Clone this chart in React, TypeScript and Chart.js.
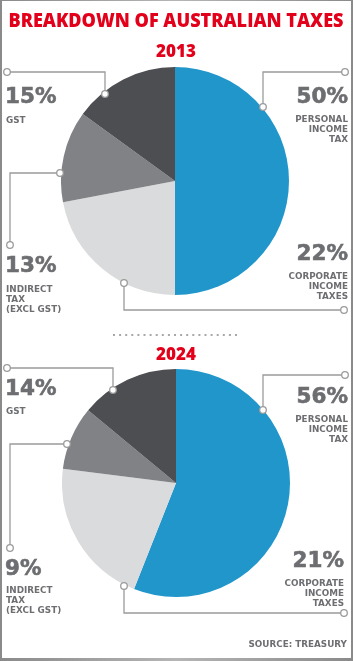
import React, { useEffect, useRef } from "react";
import { Chart, registerables } from "chart.js";

Chart.register(...registerables);

const categories = ["Personal income tax", "Corporate income taxes", "Indirect tax (excl GST)", "GST"];
const values2013 = [50, 22, 13, 15];
const values2024 = [56, 21, 9, 14];
const sliceColors = ["#2196CB", "#DADBDC", "#808285", "#4D4E51"];

const RED = "#E2001A";
const GREY = "#6D6E71";
const LINE = "#9B9B9B";
const FONT = "'Open Sans', 'DejaVu Sans', sans-serif";
const WIDE = "'DejaVu Sans', sans-serif";

function Pie({ values, left, top, size }: { values: number[]; left: number; top: number; size: number }) {
  const ref = useRef<HTMLCanvasElement | null>(null);
  useEffect(() => {
    if (!ref.current) return;
    const chart = new Chart(ref.current, {
      type: "pie",
      data: {
        labels: categories,
        datasets: [{ data: values, backgroundColor: sliceColors, borderWidth: 0 }],
      },
      options: {
        animation: false,
        responsive: false,
        maintainAspectRatio: false,
        layout: { padding: 0 },
        plugins: { legend: { display: false }, tooltip: { enabled: false } },
      },
    });
    return () => chart.destroy();
  }, [values]);
  return (
    <canvas
      ref={ref}
      width={size}
      height={size}
      style={{ position: "absolute", left, top, width: size, height: size }}
    />
  );
}

function Leader({ pts }: { pts: [number, number][] }) {
  const d = pts.map((p, i) => (i === 0 ? "M" : "L") + p[0] + " " + p[1]).join(" ");
  const a = pts[0];
  const b = pts[pts.length - 1];
  return (
    <g>
      <path d={d} fill="none" stroke={LINE} strokeWidth={1.3} />
      <circle cx={a[0]} cy={a[1]} r={3.3} fill="#fff" stroke={LINE} strokeWidth={1.3} />
      <circle cx={b[0]} cy={b[1]} r={3.3} fill="#fff" stroke={LINE} strokeWidth={1.3} />
    </g>
  );
}

function Pct({ x, y, t, anchor = "start" }: { x: number; y: number; t: string; anchor?: string }) {
  return (
    <text
      x={x}
      y={y}
      fill={GREY}
      stroke={GREY}
      strokeWidth={0.6}
      fontFamily={WIDE}
      fontWeight={700}
      fontSize={21.5}
      textAnchor={anchor as any}
    >
      {t}
    </text>
  );
}

function Lbl({ x, y, lines, anchor = "start" }: { x: number; y: number; lines: string[]; anchor?: string }) {
  return (
    <g>
      {lines.map((l, i) => (
        <text key={i} x={x} y={y + i * 10.2} fill={GREY} fontFamily={WIDE} fontWeight={700} fontSize={8.8} textAnchor={anchor as any}>
          {l}
        </text>
      ))}
    </g>
  );
}

export default function App() {
  return (
    <div
      style={{
        position: "absolute",
        left: 0,
        top: 0,
        width: 353,
        height: 661,
        background: "linear-gradient(90deg, #8a8a8a, #b5b5b5 50%, #8a8a8a)",
        overflow: "hidden",
      }}
    >
      <div style={{ position: "absolute", left: 2, top: 1, width: 349, height: 657, background: "#fff" }} />
      <Pie values={values2013} left={61} top={67} size={228} />
      <Pie values={values2024} left={62} top={369} size={228} />
      <svg width={353} height={661} style={{ position: "absolute", left: 0, top: 0 }}>
        <text
          x={176}
          y={27}
          fill={RED}
          fontFamily={FONT}
          fontWeight={800}
          fontSize={19.5}
          textAnchor="middle"
          textLength={335}
          lengthAdjust="spacingAndGlyphs"
        >
          BREAKDOWN OF AUSTRALIAN TAXES
        </text>
        <text x={176} y={57} fill={RED} fontFamily={FONT} fontWeight={800} fontSize={17} textAnchor="middle">
          2013
        </text>

        <Leader pts={[[7, 72], [105, 72], [105, 94]]} />
        <Leader pts={[[10, 245], [10, 173], [60, 173]]} />
        <Leader pts={[[124, 283], [124, 310], [344, 310]]} />
        <Leader pts={[[263, 107], [263, 72], [345, 72]]} />

        <Pct x={5} y={103} t="15%" />
        <Lbl x={6} y={123} lines={["GST"]} />
        <Pct x={5} y={272} t="13%" />
        <Lbl x={6} y={292} lines={["INDIRECT", "TAX", "(EXCL GST)"]} />
        <Pct x={348} y={103} t="50%" anchor="end" />
        <Lbl x={348} y={122} lines={["PERSONAL", "INCOME", "TAX"]} anchor="end" />
        <Pct x={348} y={260} t="22%" anchor="end" />
        <Lbl x={348} y={279} lines={["CORPORATE", "INCOME", "TAXES"]} anchor="end" />

        <line x1={113} y1={335} x2={241} y2={335} stroke="#A8A8A8" strokeWidth={2} strokeDasharray="2 4.1" />

        <text x={176} y={360} fill={RED} fontFamily={FONT} fontWeight={800} fontSize={17} textAnchor="middle">
          2024
        </text>

        <Leader pts={[[7, 368], [113, 368], [113, 390]]} />
        <Leader pts={[[10, 548], [10, 444], [67, 444]]} />
        <Leader pts={[[124, 586], [124, 613], [344, 613]]} />
        <Leader pts={[[263, 410], [263, 375], [345, 375]]} />

        <Pct x={5} y={395} t="14%" />
        <Lbl x={6} y={414} lines={["GST"]} />
        <Pct x={5} y={575} t="9%" />
        <Lbl x={6} y={593} lines={["INDIRECT", "TAX", "(EXCL GST)"]} />
        <Pct x={348} y={403} t="56%" anchor="end" />
        <Lbl x={348} y={422} lines={["PERSONAL", "INCOME", "TAX"]} anchor="end" />
        <Pct x={344} y={567} t="21%" anchor="end" />
        <Lbl x={344} y={586} lines={["CORPORATE", "INCOME", "TAXES"]} anchor="end" />

        <text x={347} y={647} fill={GREY} fontFamily={WIDE} fontWeight={700} fontSize={8.8} textAnchor="end">
          SOURCE: TREASURY
        </text>
      </svg>
    </div>
  );
}
